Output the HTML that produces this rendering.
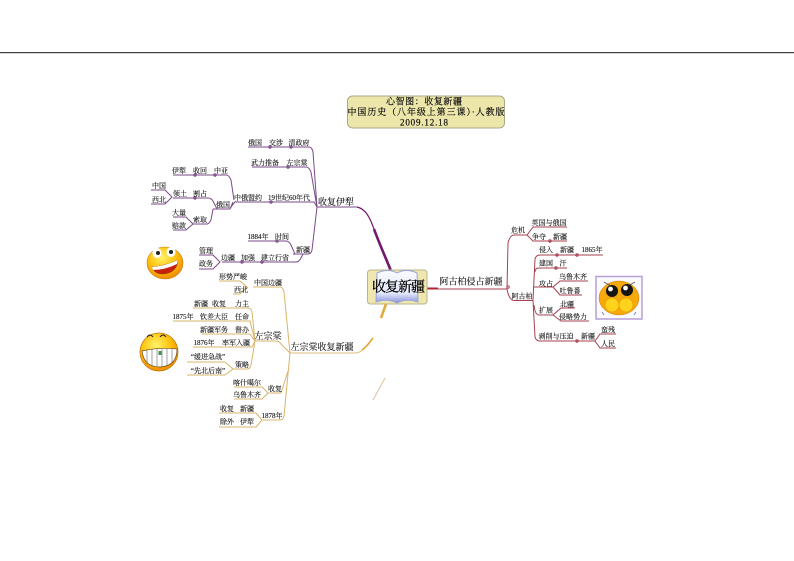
<!DOCTYPE html>
<html lang="zh">
<head>
<meta charset="utf-8">
<title>心智图：收复新疆</title>
<style>
html,body{margin:0;padding:0;background:#fff;width:794px;height:561px;overflow:hidden}
svg{display:block}
text{font-family:"Liberation Serif","Noto Serif CJK SC",serif;fill:#111;stroke:#111;stroke-width:.12;text-anchor:middle}
.s{font-size:7px}
.m{font-size:9px}
.t{font-size:9px;stroke-width:.2}
.root{font-size:14px;fill:#000;stroke:#000;stroke-width:.25}
.p{fill:none;stroke:#7a4a88;stroke-width:1}
.r{fill:none;stroke:#a8404f;stroke-width:1}
.o{fill:none;stroke:#d8b46c;stroke-width:1}
</style>
</head>
<body>
<svg width="794" height="561" viewBox="0 0 794 561" xmlns="http://www.w3.org/2000/svg">
<defs>
<radialGradient id="y" cx="42%" cy="32%" r="70%"><stop offset="0" stop-color="#fff36a"/><stop offset=".55" stop-color="#fdc10c"/><stop offset="1" stop-color="#ef8a05"/></radialGradient>
<linearGradient id="bk" x1="0" y1="0" x2="0" y2="1"><stop offset="0" stop-color="#fbfcff"/><stop offset=".7" stop-color="#e4e9fb"/><stop offset="1" stop-color="#8693d8"/></linearGradient>
</defs>
<rect x="0" y="52" width="794" height="1.2" fill="#3c3c3c"/>

<!-- title -->
<rect x="347.500" y="96" width="157" height="32" rx="5" fill="#ece6aa" stroke="#a9aa8a"/>
<text x="424" y="104.500" class="t" textLength="76" lengthAdjust="spacing">心智图：收复新疆</text>
<text x="426" y="115" class="t" textLength="157" lengthAdjust="spacing">中国历史（八年级上第三课）·人教版</text>
<text x="424" y="125.500" class="t" textLength="48" lengthAdjust="spacing">2009.12.18</text>

<!-- main trunks -->
<path d="M357 207C366 209 370 218 374 229" fill="none" stroke="#74186f" stroke-width="1.200"/>
<path d="M374 229C379 243 385 256 391 271" fill="none" stroke="#74186f" stroke-width="2.600"/>
<path d="M357 207H317" class="p"/>
<path d="M425 289H507" fill="none" stroke="#a8404f" stroke-width="1"/>
<path d="M424 288.500H438" fill="none" stroke="#b02035" stroke-width="2"/>
<path d="M386 304L381 318" fill="none" stroke="#e4a93a" stroke-width="2.600"/>
<path d="M373 338C366 348 361 353 355 353H290" fill="none" stroke="#dfbd7c" stroke-width="1"/>
<path d="M373 338C368 345 365 348 362 350" fill="none" stroke="#e0a83a" stroke-width="1.600"/>
<path d="M385 378L373 400" fill="none" stroke="#dcc09a" stroke-width="1"/>

<!-- purple branches -->
<path class="p" d="M248 147H309Q312 147 313 152L317 207M252 167H306Q309 167 311 172L317 207M236 202H314L317 207M317 207L312 250Q311 254 308 254H293"/>
<path class="p" d="M236 201Q232 205 230 209H213M230 209L233 202M173 175H226Q229 175 231 180L234 200"/>
<path class="p" d="M173 198H208Q211 198 213 201L217 209M151 190H165L172 197L165 204H151M193 224H207Q209 224 211 220L213 209M173 217H186L193 224L186 230H173"/>
<path class="p" d="M248 241H286Q289 241 291 245L295 254M199 255H213L220 262L213 269H199M222 262H296Q299 262 301 258L303 254"/>
<circle cx="270" cy="147" r="1.200" class="p"/><circle cx="291" cy="147" r="1.200" class="p"/><circle cx="288" cy="167" r="1.200" class="p"/><circle cx="271" cy="202" r="1.200" class="p"/><circle cx="195" cy="175" r="1.200" class="p"/><circle cx="215" cy="175" r="1.200" class="p"/><circle cx="195" cy="198" r="1.200" class="p"/><circle cx="277" cy="241" r="1.200" class="p"/><circle cx="242" cy="262" r="1.200" class="p"/><circle cx="262" cy="262" r="1.200" class="p"/>

<!-- orange branches -->
<path class="o" d="M290 353L284 292Q283 287 280 287H253M219 281H240L247 287L240 294H233M255 341H276Q279 341 281 344L290 353"/>
<path class="o" d="M193 308H248Q251 308 252 312L255 341M173 321H250L255 341M202 334H250L255 341M193 347H252L255 341M233 369H247Q250 369 251 365L255 341M187 362H225L233 369L225 375H187"/>
<path class="o" d="M290 353L284 416Q283 420 280 420H262M268 393H281L288 371M234 387H262L268 393L262 399H234M219 413H256L262 420L256 427H219"/>

<!-- red branches -->
<path class="r" d="M507 289L508 243Q510 235 514 235H527L533 227H567M527 235L533 241H567"/>
<path class="r" d="M507 289Q509 300 514 300.500H533"/>
<path class="r" d="M533 300L535 259Q536 255 540 255H603M535 272Q535 268 539 268H567M534 287H553L560 281H588M553 287L560 295H582M534 305Q535 315 539 315H553L561 308H575M553 315L561 321H589M533 300L535 337Q536 341 540 341H595L600 334H616M595 341L600 348H616"/>
<circle cx="557" cy="255" r="1.200" class="r"/><circle cx="577" cy="255" r="1.200" class="r"/><circle cx="550" cy="241" r="1.200" class="r"/><circle cx="556" cy="268" r="1.200" class="r"/><circle cx="577" cy="341" r="1.200" class="r"/><circle cx="508" cy="287" r="1.200" class="r"/>

<!-- purple labels -->
<g class="s">
<text x="255" y="145">俄国</text><text x="276" y="145">交涉</text><text x="299" y="145">清政府</text>
<text x="265" y="165">武力推备</text><text x="297" y="165">左宗棠</text>
<text x="248" y="200">中俄盟约</text><text x="289" y="200">19世纪60年代</text>
<text x="223" y="207">俄国</text>
<text x="179" y="173">伊犁</text><text x="200" y="173">收回</text><text x="221" y="173">中亚</text>
<text x="159" y="188">中国</text><text x="159" y="202">西北</text>
<text x="180" y="196">领土</text><text x="200" y="196">割占</text>
<text x="179" y="215">大量</text><text x="179" y="228">赔款</text><text x="200" y="222">索取</text>
<text x="258" y="239">1884年</text><text x="282" y="239">时间</text><text x="303" y="252">新疆</text>
<text x="206" y="253">管理</text><text x="206" y="266">政务</text>
<text x="228" y="260">边疆</text><text x="248" y="260">加强</text><text x="275" y="260">建立行省</text>
</g>

<!-- orange labels -->
<g class="s">
<text x="233" y="279">形势严峻</text><text x="241" y="292">西北</text><text x="268" y="285">中国边疆</text>
<text x="201" y="306">新疆</text><text x="219" y="306">收复</text><text x="242" y="306">力主</text>
<text x="183" y="319">1875年</text><text x="214" y="319">钦差大臣</text><text x="242" y="319">任命</text>
<text x="214" y="332">新疆军务</text><text x="242" y="332">督办</text>
<text x="204" y="345">1876年</text><text x="236" y="345">率军入疆</text>
<text x="208" y="359">“缓进急战”</text><text x="208" y="373">“先北后南”</text><text x="242" y="367">策略</text>
<text x="247" y="385">喀什噶尔</text><text x="247" y="397">乌鲁木齐</text><text x="275" y="391">收复</text>
<text x="227" y="411">收复</text><text x="247" y="411">新疆</text><text x="227" y="424">除外</text><text x="247" y="424">伊犁</text><text x="272" y="418">1878年</text>
</g>

<!-- red labels -->
<g class="s">
<text x="518" y="232.500">危机</text><text x="549" y="225">英国与俄国</text><text x="539" y="239">争夺</text><text x="560" y="239">新疆</text>
<text x="522" y="298.500">阿古柏</text>
<text x="546" y="252">侵入</text><text x="567" y="252">新疆</text><text x="592" y="252">1865年</text>
<text x="546" y="265.500">建国</text><text x="563" y="265.500">汗</text>
<text x="546" y="286">攻占</text><text x="573" y="279">乌鲁木齐</text><text x="570" y="293">吐鲁番</text>
<text x="546" y="312.500">扩展</text><text x="567" y="306.500">北疆</text><text x="573" y="319">侵略势力</text>
<text x="556" y="338.500">剥削与压迫</text><text x="588" y="338.500">新疆</text><text x="608" y="332">蛮残</text><text x="608" y="346">人民</text>
</g>

<!-- main labels -->
<text x="336" y="205" class="m">收复伊犁</text>
<text x="268" y="339" class="m">左宗棠</text>
<text x="322" y="350" class="m">左宗棠收复新疆</text>
<text x="471" y="284.500" class="m">阿古柏侵占新疆</text>

<!-- root -->
<rect x="367.500" y="270" width="59.500" height="34" rx="3" fill="#efe6b0" stroke="#b9b48c"/>
<path d="M377 273Q388 268 397 273Q406 268 417 273L418 302Q407 298 397 303Q387 298 376 302Z" fill="url(#bk)" stroke="#9aa6dc" stroke-width="1"/>
<text x="398.500" y="291.500" class="root" textLength="53" lengthAdjust="spacing">收复新疆</text>

<!-- emoji 1 -->
<ellipse cx="165" cy="263" rx="18" ry="16" fill="url(#y)" stroke="#c87808" stroke-width=".6"/>
<ellipse cx="157" cy="253" rx="4.500" ry="5" fill="#fff"/><ellipse cx="171" cy="252" rx="4.500" ry="5" fill="#fff"/>
<circle cx="158" cy="253" r="2" fill="#222"/><circle cx="171" cy="252" r="2" fill="#222"/>
<path d="M152 267Q165 266 178 260Q177 273 163 274Q154 274 152 267Z" fill="#c8200f" stroke="#8a3b00" stroke-width=".5"/>
<path d="M152 267Q165 266 178 260L177 264Q165 270 153 270Z" fill="#fff"/>

<!-- emoji 2 -->
<ellipse cx="159" cy="352" rx="19" ry="19" fill="url(#y)" stroke="#c87808" stroke-width=".8"/>
<path d="M147 337Q150 333 153 337M160 337Q163 333 166 337" fill="none" stroke="#222" stroke-width=".9"/>
<path d="M142 351Q160 347 177 349Q177 366 160 367Q144 367 142 351Z" fill="#fff" stroke="#6b4a10" stroke-width=".7"/>
<path d="M147 350V364M152 349V366M157 349V367M162 349V367M167 349V366M172 349V363" fill="none" stroke="#666" stroke-width=".6"/>
<rect x="158.500" y="351" width="3" height="4" fill="#3f8f58"/>

<!-- emoji 3 -->
<rect x="596" y="276.500" width="46" height="42.500" fill="#fbfaff" stroke="#b79fd8" stroke-width="1.500"/>
<ellipse cx="619" cy="298" rx="20" ry="17" fill="#f6a90b" stroke="#d07a05" stroke-width=".5"/>
<path d="M604 282L611 286M635 282L628 286" fill="none" stroke="#555" stroke-width=".8"/>
<circle cx="612" cy="291" r="6" fill="#141414"/><circle cx="627" cy="290" r="6" fill="#141414"/>
<circle cx="610.500" cy="289" r="2.400" fill="#fff"/><circle cx="625.500" cy="288" r="2.400" fill="#fff"/>
<circle cx="612" cy="305" r="7" fill="#ffd21c" stroke="#e59405" stroke-width=".6"/><circle cx="626" cy="305" r="7" fill="#ffd21c" stroke="#e59405" stroke-width=".6"/>
<path d="M602 312L604 315M636 312L634 315" fill="none" stroke="#7a8ba8" stroke-width="1"/>
</svg>
</body>
</html>
